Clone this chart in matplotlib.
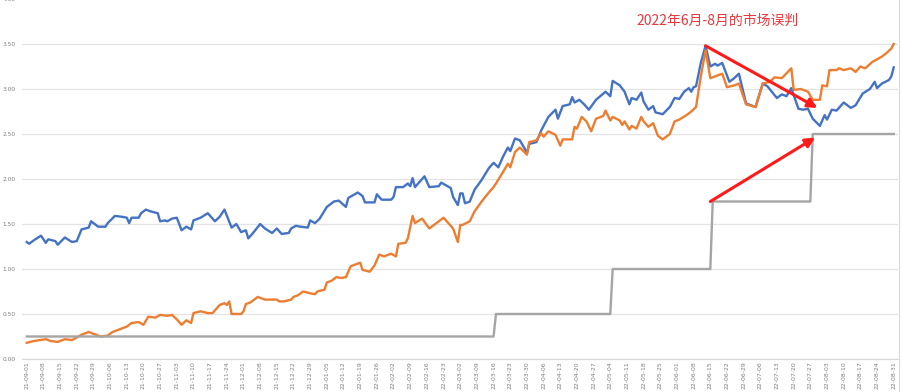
import numpy as np
import pandas as pd
import matplotlib
matplotlib.use("Agg")
import matplotlib.pyplot as plt

plt.rcParams['font.family'] = ['Noto Sans CJK SC', 'DejaVu Sans']

START = "2021-09-01"
END = "2022-08-31"

# Blue series (days after 2021-09-01, value)
blue_days = [0, 1, 3, 6, 8, 9, 12, 13, 16, 19, 21, 23, 26, 27, 30, 33, 34, 37, 40, 42, 43, 44, 47, 48,
             50, 52, 55, 56, 58, 59, 61, 63, 65, 67, 69, 70, 73, 76, 79, 81, 83, 86, 88, 90, 92, 93,
             95, 98, 100, 103, 105, 107, 110, 111, 113, 115, 118, 119, 121, 123, 126, 129, 131, 134,
             135, 139, 141, 142, 146, 147, 149, 153, 154, 155, 158, 160, 161, 162, 163, 167, 169, 173,
             174, 176, 178, 179, 181, 182, 183, 184, 186, 188, 191, 194, 196, 198, 200, 202, 203, 205,
             207, 209, 210, 211, 214, 216, 219, 222, 223, 225, 228, 229, 230, 232, 234, 236, 239, 243,
             245, 246, 249, 251, 253, 254, 256, 258, 259, 261, 263, 264, 267, 270, 272, 274, 276, 278,
             279, 280, 281, 283, 285, 287, 289, 290, 292, 295, 297, 299, 302, 306, 309, 311, 314, 315,
             317, 319, 321, 324, 326, 328, 330, 333, 335, 336, 338, 340, 343, 346, 348, 351, 354, 356,
             357, 359, 362, 363, 364]
blue_vals = [1.30, 1.28, 1.32, 1.37, 1.29, 1.33, 1.31, 1.27, 1.35, 1.30, 1.31, 1.44, 1.46, 1.53, 1.47,
             1.47, 1.51, 1.59, 1.58, 1.57, 1.51, 1.57, 1.57, 1.62, 1.66, 1.64, 1.62, 1.53, 1.54, 1.53,
             1.56, 1.57, 1.43, 1.47, 1.44, 1.54, 1.57, 1.62, 1.53, 1.58, 1.66, 1.46, 1.50, 1.41, 1.43,
             1.34, 1.40, 1.50, 1.45, 1.40, 1.45, 1.39, 1.40, 1.45, 1.48, 1.47, 1.46, 1.54, 1.51, 1.56,
             1.69, 1.75, 1.76, 1.69, 1.79, 1.85, 1.81, 1.74, 1.74, 1.83, 1.77, 1.77, 1.80, 1.91, 1.91,
             1.95, 1.92, 2.01, 1.91, 2.03, 1.91, 1.92, 1.96, 1.93, 1.90, 1.80, 1.71, 1.84, 1.84, 1.73,
             1.75, 1.88, 1.99, 2.12, 2.18, 2.13, 2.25, 2.35, 2.31, 2.45, 2.43, 2.34, 2.29, 2.39, 2.41,
             2.54, 2.69, 2.77, 2.67, 2.81, 2.83, 2.91, 2.85, 2.88, 2.83, 2.77, 2.88, 2.97, 2.92, 3.09,
             3.04, 2.97, 2.83, 2.90, 2.88, 2.96, 2.86, 2.77, 2.81, 2.74, 2.72, 2.80, 2.90, 2.89, 2.97,
             3.01, 2.97, 3.02, 3.03, 3.29, 3.48, 3.25, 3.28, 3.26, 3.29, 3.08, 3.12, 3.17, 2.84, 2.80,
             3.06, 3.03, 2.93, 2.90, 2.94, 2.92, 3.01, 2.78, 2.77, 2.78, 2.67, 2.59, 2.71, 2.66, 2.77,
             2.76, 2.85, 2.79, 2.82, 2.95, 3.00, 3.08, 3.01, 3.06, 3.10, 3.14, 3.24]

# Orange series
orange_days = [0, 3, 8, 10, 13, 16, 19, 21, 23, 26, 29, 31, 34, 36, 39, 42, 44, 47, 49, 51, 54, 56, 59,
               61, 63, 65, 67, 69, 70, 73, 76, 78, 81, 83, 84, 85, 86, 90, 91, 92, 94, 97, 99, 100, 103,
               105, 106, 108, 111, 112, 114, 116, 119, 121, 122, 125, 126, 128, 130, 132, 134, 135, 136,
               139, 140, 141, 144, 146, 148, 150, 153, 155, 156, 159, 160, 162, 163, 166, 169, 172, 175,
               177, 179, 181, 182, 183, 186, 188, 191, 194, 196, 197, 200, 202, 203, 205, 207, 210, 211,
               214, 216, 217, 219, 222, 224, 225, 229, 230, 231, 233, 235, 237, 239, 242, 243, 245, 246,
               249, 250, 251, 253, 254, 256, 258, 259, 261, 263, 265, 267, 270, 272, 274, 277, 279, 281,
               283, 285, 287, 289, 291, 292, 294, 297, 299, 302, 306, 309, 312, 314, 317, 321, 322, 325,
               328, 330, 333, 334, 336, 337, 340, 341, 343, 346, 348, 350, 352, 355, 359, 361, 363, 364]
orange_vals = [0.18, 0.20, 0.22, 0.20, 0.19, 0.22, 0.21, 0.24, 0.27, 0.30, 0.27, 0.25, 0.26, 0.30, 0.33,
               0.36, 0.40, 0.41, 0.38, 0.47, 0.46, 0.49, 0.48, 0.49, 0.44, 0.38, 0.43, 0.40, 0.51, 0.53,
               0.51, 0.51, 0.60, 0.62, 0.60, 0.64, 0.50, 0.50, 0.53, 0.61, 0.63, 0.69, 0.67, 0.66, 0.66,
               0.66, 0.64, 0.64, 0.66, 0.69, 0.71, 0.75, 0.73, 0.72, 0.75, 0.77, 0.85, 0.87, 0.91, 0.90,
               0.91, 0.97, 1.03, 1.06, 1.07, 0.99, 0.97, 1.04, 1.16, 1.14, 1.17, 1.14, 1.28, 1.29, 1.34,
               1.59, 1.51, 1.56, 1.45, 1.51, 1.57, 1.51, 1.45, 1.30, 1.49, 1.49, 1.53, 1.64, 1.75, 1.85,
               1.91, 1.95, 2.08, 2.17, 2.13, 2.30, 2.35, 2.27, 2.41, 2.43, 2.51, 2.47, 2.53, 2.49, 2.37,
               2.44, 2.44, 2.58, 2.56, 2.69, 2.64, 2.53, 2.67, 2.70, 2.76, 2.65, 2.69, 2.65, 2.60, 2.64,
               2.55, 2.59, 2.56, 2.69, 2.64, 2.58, 2.62, 2.48, 2.44, 2.50, 2.64, 2.66, 2.71, 2.75, 2.80,
               3.14, 3.43, 3.12, 3.14, 3.16, 3.17, 3.02, 3.04, 3.06, 2.83, 2.80, 3.06, 3.08, 3.13, 3.12,
               3.23, 2.99, 3.00, 2.97, 2.88, 2.88, 3.04, 3.03, 3.21, 3.21, 3.23, 3.21, 3.23, 3.19, 3.25,
               3.23, 3.30, 3.36, 3.40, 3.45, 3.50]

# Gray step series: change dates and levels
rate_change_dates = ["2021-09-01", "2022-03-17", "2022-05-05", "2022-06-16", "2022-07-28"]
rate_levels = [0.25, 0.50, 1.00, 1.75, 2.50]

y_ticks = [0.0, 0.5, 1.0, 1.5, 2.0, 2.5, 3.0, 3.5, 4.0]
annotation_text = "2022年6月-8月的市场误判"

BLUE = "#4472C4"
ORANGE = "#ED7D31"
GRAY = "#A5A5A5"
RED = "#FF1A1A"

start = pd.Timestamp(START)
end = pd.Timestamp(END)
blue_dates = start + pd.to_timedelta(blue_days, unit="D")
orange_dates = start + pd.to_timedelta(orange_days, unit="D")

all_days = pd.date_range(start, end, freq="D")
chg = pd.to_datetime(rate_change_dates)
idx = np.searchsorted(chg.values, all_days.values, side="right") - 1
rate_daily = np.array(rate_levels)[idx]

fig = plt.figure(figsize=(9.04, 3.92), dpi=100)
ax = fig.add_axes([22 / 904, 33 / 392, 876 / 904, 360 / 392])

ax.plot(blue_dates, blue_vals, color=BLUE, lw=1.7, zorder=3, solid_joinstyle="round")
ax.plot(orange_dates, orange_vals, color=ORANGE, lw=1.7, zorder=4, solid_joinstyle="round")
ax.plot(all_days, rate_daily, color=GRAY, lw=1.7, zorder=5)

ax.set_ylim(0, 4)
ax.set_xlim(start - pd.Timedelta(days=2), end + pd.Timedelta(days=1.8))
ax.set_yticks(y_ticks)
ax.set_yticklabels([f"{v:.2f}" for v in y_ticks])
ax.grid(axis="y", color="#E3E3E3", lw=0.9, zorder=0)

weekly = pd.date_range(start, end, freq="7D")
ax.set_xticks(weekly)
ax.set_xticklabels([d.strftime("%y-%m-%d") for d in weekly], rotation=90,
                   fontsize=4.4, color="#7F7F7F", family="DejaVu Sans")
ax.tick_params(axis="x", length=0, pad=1.5)
ax.tick_params(axis="y", length=0, pad=4.5, labelsize=4.2, labelcolor="#7F7F7F")
for lab in ax.get_yticklabels():
    lab.set_family("DejaVu Sans")

for s in ["top", "left", "right"]:
    ax.spines[s].set_visible(False)
ax.spines["bottom"].set_color("#D9D9D9")
ax.spines["bottom"].set_linewidth(0.9)

# annotations
peak_i = int(np.argmax(blue_vals))
peak_date = blue_dates[peak_i]
ax.annotate("", xy=(start + pd.Timedelta(days=332), 2.79),
            xytext=(peak_date, blue_vals[peak_i]),
            arrowprops=dict(arrowstyle="-|>", color=RED, lw=2.2, mutation_scale=14,
                            shrinkA=0, shrinkB=0), zorder=6)
ax.annotate("", xy=(start + pd.Timedelta(days=331), 2.46),
            xytext=(chg[3] - pd.Timedelta(days=1), rate_levels[3]),
            arrowprops=dict(arrowstyle="-|>", color=RED, lw=2.2, mutation_scale=14,
                            shrinkA=0, shrinkB=0), zorder=6)
ax.text(start + pd.Timedelta(days=290), 3.76, annotation_text, color="#E8383D",
        fontsize=10, ha="center", va="center")

fig.add_artist(plt.Line2D([899 / 904, 899 / 904], [0, 1], color="#D9D9D9", lw=0.8,
                          transform=fig.transFigure))

fig.savefig("out.png", dpi=100, facecolor="white")
